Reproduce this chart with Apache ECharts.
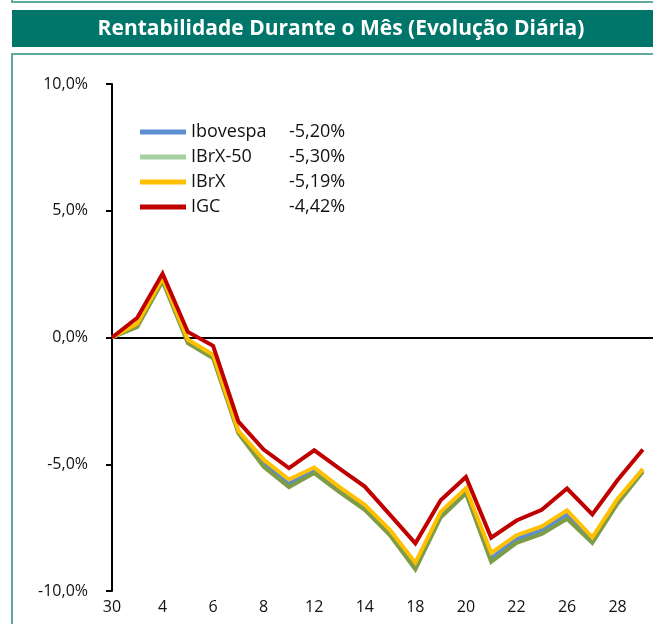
<!DOCTYPE html>
<html>
<head>
<meta charset="utf-8">
<script src="https://cdn.jsdelivr.net/npm/echarts@6/dist/echarts.min.js"></script>
<style>
  html, body { margin: 0; padding: 0; background: #fff; }
  #chart { width: 653px; height: 624px; }
</style>
</head>
<body>
<div id="chart"></div>
<script>
// dias do mes (30 = fechamento do mes anterior)
const days = ['30', '1', '4', '5', '6', '7', '8', '11', '12', '13', '14', '15', '18', '19', '20', '21', '22', '25', '26', '27', '28', '29']

const ibovespa = [0, 0.50, 2.30, -0.15, -0.75, -3.72, -4.98, -5.76, -5.25, -6.00, -6.70, -7.70, -9.05, -7.00, -6.05, -8.70, -7.95, -7.60, -6.98, -8.00, -6.45, -5.20]
const ibrx50 = [0, 0.42, 2.22, -0.22, -0.82, -3.78, -5.10, -5.90, -5.35, -6.10, -6.80, -7.80, -9.15, -7.10, -6.15, -8.85, -8.10, -7.75, -7.15, -8.10, -6.55, -5.30]
const ibrx = [0, 0.55, 2.35, -0.08, -0.68, -3.68, -4.82, -5.60, -5.13, -5.90, -6.60, -7.60, -8.88, -6.88, -5.95, -8.50, -7.80, -7.45, -6.82, -7.88, -6.36, -5.19]
const igc = [0, 0.78, 2.52, 0.22, -0.33, -3.32, -4.42, -5.15, -4.45, -5.17, -5.88, -7.00, -8.12, -6.42, -5.50, -7.90, -7.22, -6.80, -5.96, -6.98, -5.62, -4.42]

const names = ['Ibovespa', 'IBrX-50', 'IBrX', 'IGC']
const finals = ['-5,20%', '-5,30%', '-5,19%', '-4,42%']
const yTicks = [-10, -5, 0, 5, 10]

const lineColors = ['#5B8FD0', '#7E9C45', '#FFC000', '#C00000']
const legendColors = ['#5B8FD0', '#A6D0A2', '#FFC000', '#C00000']

const chart = echarts.init(document.getElementById('chart'))

function toPairs(arr) {
  return arr.map((v, i) => [i, v])
}

const allData = [ibovespa, ibrx50, ibrx, igc]

const series = allData.map((arr, k) => ({
  name: names[k],
  type: 'line',
  data: toPairs(arr),
  showSymbol: false,
  symbol: 'none',
  lineStyle: { color: lineColors[k], width: 4, join: 'miter' },
  itemStyle: { color: lineColors[k] },
  z: 3 + k,
  animation: false
}))

// linha do zero
series[0].markLine = {
  silent: true,
  symbol: 'none',
  label: { show: false },
  lineStyle: { color: '#000', width: 2, type: 'solid' },
  data: [{ yAxis: 0 }],
  z: 1
}

chart.setOption({
  animation: false,
  textStyle: { fontFamily: 'Open Sans' },
  title: {
    text: 'Rentabilidade Durante o Mês (Evolução Diária)',
    left: 336,
    top: 14,
    textAlign: 'center',
    textStyle: { color: '#fff', fontSize: 21, fontWeight: 'bold', fontFamily: 'Open Sans' },
    z: 10
  },
  graphic: [
    { type: 'rect', z: -1, shape: { x: 12, y: -10, width: 660, height: 12 }, style: { fill: '#fff', stroke: '#5FA9A0', lineWidth: 2 } },
    { type: 'rect', z: -1, shape: { x: 12, y: 10, width: 660, height: 37 }, style: { fill: '#00766A' } },
    { type: 'rect', z: -1, shape: { x: 12, y: 54, width: 660, height: 600 }, style: { fill: 'none', stroke: '#5FA9A0', lineWidth: 2 } }
  ],
  legend: {
    orient: 'vertical',
    left: 135,
    top: 118,
    itemWidth: 46,
    itemHeight: 5,
    itemGap: 7,
    icon: 'rect',
    data: names.map((n, k) => ({ name: n, icon: 'rect', itemStyle: { color: legendColors[k] } })),
    formatter: function (name) {
      const k = names.indexOf(name)
      return '{n|' + name + '}{v|' + finals[k] + '}'
    },
    textStyle: {
      color: '#111',
      fontSize: 18,
      rich: {
        n: { width: 98, fontSize: 18, lineHeight: 20, color: '#111' },
        v: { fontSize: 18, lineHeight: 20, color: '#111' }
      }
    }
  },
  grid: { left: 112, right: 0, top: 84, bottom: 33, containLabel: false },
  xAxis: {
    type: 'value',
    min: 0,
    max: 21.4,
    interval: 2,
    axisLine: { show: false },
    axisTick: { show: false },
    splitLine: { show: false },
    axisLabel: {
      margin: 8,
      color: '#111',
      fontSize: 16,
      showMaxLabel: false,
      formatter: function (v) {
        return Number.isInteger(v) && days[v] !== undefined ? days[v] : ''
      }
    }
  },
  yAxis: {
    type: 'value',
    min: yTicks[0],
    max: yTicks[yTicks.length - 1],
    interval: 5,
    axisLine: { show: true, onZero: false, lineStyle: { color: '#000', width: 2 } },
    axisTick: { show: true, inside: false, length: 6, lineStyle: { color: '#000', width: 2 } },
    splitLine: { show: false },
    axisLabel: {
      margin: 24,
      color: '#111',
      fontSize: 16,
      formatter: function (v) {
        return v.toFixed(1).replace('.', ',') + '%'
      }
    }
  },
  series: series
})
</script>
</body>
</html>
